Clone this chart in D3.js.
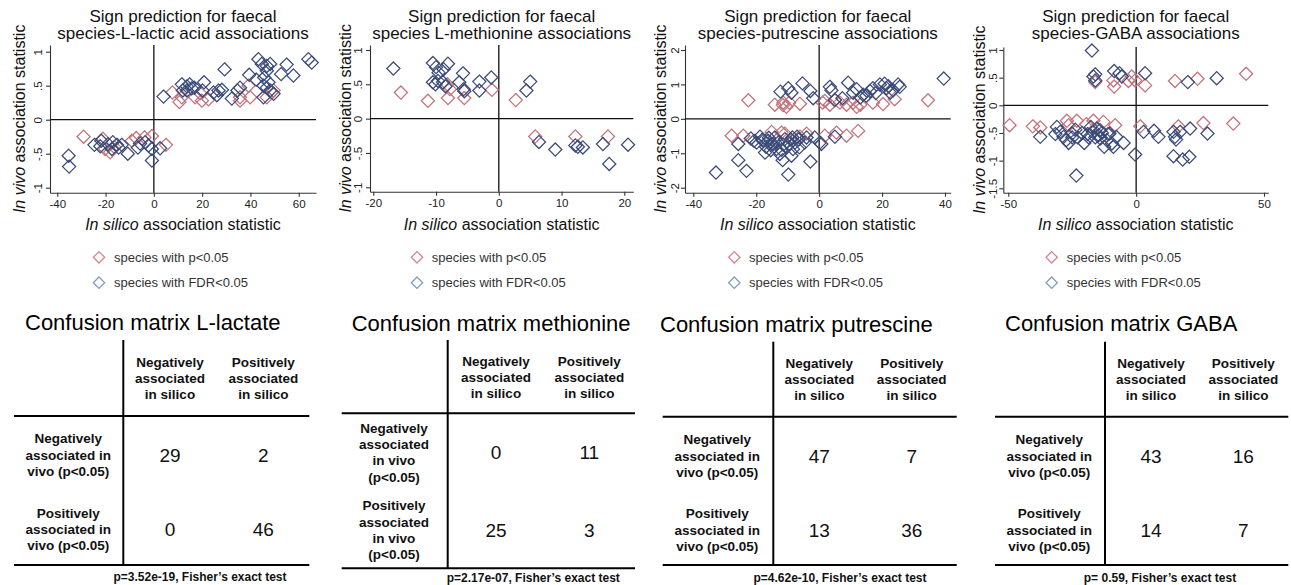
<!DOCTYPE html>
<html>
<head>
<meta charset="utf-8">
<title>Sign prediction for faecal species associations</title>
<script src="https://d3js.org/d3.v7.min.js"></script>
<style>
  body { margin: 0; background: #fff; }
  svg { font-family: "Liberation Sans", Arial, sans-serif; display: block; }
</style>
</head>
<body>
<div id="container"></div>
<script>
// ---------- data ----------
// [in silico statistic, in vivo statistic]
const lactateP = [[-29.1,-0.25],[-21.1,-0.28],[-20.2,-0.43],[-18.1,-0.48],[-16.4,-0.40],[-9.1,-0.31],
  [-7.3,-0.27],[-3.9,-0.26],[-0.8,-0.24],[5.0,-0.37],[7.7,0.40],[11.6,0.33],[10.6,0.26],[17.1,0.33],
  [19.2,0.39],[19.9,0.28],[22.6,0.30],[35.7,0.28],[39.2,0.50],[39.9,0.33],[35.7,0.33],[46.8,0.33],
  [48.8,0.40],[49.6,0.43]];
const lactateFDR = [[-35.3,-0.53],[-35.1,-0.69],[-24.6,-0.37],[-21.8,-0.31],[-22.2,-0.39],[-19.0,-0.36],
  [-17.0,-0.33],[-15.3,-0.37],[-14.6,-0.41],[-13.3,-0.37],[-17.4,-0.43],[-10.8,-0.50],[-6.6,-0.41],
  [-5.7,-0.35],[-3.6,-0.33],[-2.2,-0.38],[-0.8,-0.43],[-0.8,-0.60],[2.6,-0.42],[4.0,0.34],[11.6,0.52],
  [13.7,0.49],[14.8,0.52],[15.7,0.46],[13.7,0.43],[12.0,0.43],[16.8,0.47],[20.8,0.55],[20.2,0.43],
  [24.7,0.40],[26.8,0.43],[26.1,0.36],[28.2,0.44],[29.3,0.74],[32.3,0.31],[34.6,0.43],[35.7,0.47],
  [39.5,0.66],[42.4,0.59],[43.3,0.89],[44.7,0.82],[46.8,0.79],[48.2,0.82],[46.8,0.72],[45.7,0.62],
  [47.5,0.55],[45.4,0.50],[46.8,0.47],[45.4,0.33],[49.6,0.38],[48.2,0.43],[52.7,0.67],[55.0,0.81],
  [57.8,0.65],[64.0,0.89],[65.4,0.84]];

const methionineP = [[-15.6,0.38],[-11.3,0.26],[-8.2,0.50],[-8.1,0.30],[-7.8,0.43],[-5.5,0.30],
  [-1.1,0.42],[2.7,0.27],[5.8,-0.26],[12.2,-0.26],[17.4,-0.26]];
const methionineFDR = [[-16.8,0.73],[-10.5,0.81],[-10.0,0.75],[-9.6,0.67],[-8.8,0.72],[-8.1,0.80],
  [-10.5,0.53],[-10.1,0.50],[-9.7,0.55],[-8.9,0.53],[-8.5,0.47],[-6.3,0.53],[-5.7,0.66],[-5.6,0.43],
  [-5.5,0.40],[-3.1,0.54],[-3.1,0.41],[-1.2,0.60],[4.4,0.41],[5.0,0.54],[6.4,-0.34],[9.0,-0.45],
  [12.2,-0.39],[12.6,-0.41],[13.4,-0.42],[16.6,-0.37],[17.6,-0.66],[20.6,-0.38]];

const putrescineP = [[-22.5,0.54],[-14.1,0.41],[-11.4,0.47],[-10.4,0.35],[-9.5,0.47],[-6.1,0.44],
  [-11.5,0.40],[1.1,0.47],[1.8,0.52],[3.4,0.41],[5.0,0.54],[6.6,0.47],[8.7,0.41],[10.8,0.47],
  [11.9,0.35],[13.1,0.41],[17.1,0.47],[20.3,0.43],[24.0,0.57],[34.6,0.54],
  [-27.8,-0.49],[-24.1,-0.49],[-15.1,-0.38],[-12.0,-0.40],[-10.9,-0.43],[-6.1,-0.52],[-4.0,-0.43],
  [1.8,-0.49],[5.5,-0.40],[8.7,-0.49],[12.4,-0.35]];
const putrescineFDR = [[-12.3,0.79],[-9.8,0.89],[-8.8,0.76],[-5.3,1.03],[-2.8,0.81],[-1.9,0.60],
  [3.4,0.93],[3.9,0.83],[7.4,0.60],[9.2,1.05],[10.8,0.76],[11.9,0.86],[13.1,0.62],[15.0,0.67],
  [16.1,0.81],[17.1,0.89],[19.3,1.00],[20.8,1.02],[21.4,0.89],[22.6,0.76],[23.5,0.83],[25.1,1.00],
  [25.6,0.93],[39.6,1.17],[14.0,0.70],[18.0,0.75],[22.0,0.95],[5.0,0.55],
  [-32.8,-1.56],[-25.7,-0.73],[-25.7,-1.20],[-23.1,-1.51],[-21.7,-0.57],[-19.9,-0.69],[-18.8,-0.52],
  [-17.8,-0.64],[-16.9,-0.81],[-16.2,-0.64],[-15.4,-0.91],[-14.6,-0.73],[-14.1,-0.54],[-13.5,-0.88],
  [-13.0,-0.69],[-12.5,-1.02],[-11.6,-1.20],[-10.9,-0.59],[-10.4,-0.81],[-9.5,-0.73],[-8.8,-1.07],
  [-8.5,-0.54],[-8.3,-0.88],[-7.7,-0.69],[-7.0,-0.52],[-6.3,-0.83],[-4.6,-0.69],[-4.0,-0.54],
  [-2.8,-1.24],[-1.4,-0.54],[-9.8,-1.62],[-15.1,-0.73],[-11.4,-0.75],[-20.7,-0.64],[-17.2,-0.98],
  [-18.0,-0.60],[-12.0,-0.90],[-9.0,-0.60],[-6.5,-0.60],[-16.0,-0.55],
  [0.2,-0.69],[0.7,-0.73],[5.0,-0.52]];

const gabaP = [[-16.0,0.42],[-8.9,0.45],[-8.6,0.34],[-3.0,0.44],[-1.7,0.52],[-0.4,0.45],[3.5,0.36],
  [15.2,0.44],[24.0,0.48],[43.0,0.57],
  [-49.5,-0.36],[-40.4,-0.38],[-37.5,-0.40],[-27.1,-0.28],[-26.4,-0.36],[-23.2,-0.28],[-19.5,-0.34],
  [-16.7,-0.28],[-12.8,-0.30],[-8.2,-0.36],[1.6,-0.38],[16.5,-0.38],[26.3,-0.32],[38.0,-0.33]];
const gabaFDR = [[-17.3,0.99],[-16.7,0.52],[-16.0,0.45],[-16.0,0.56],[-8.6,0.62],[-6.5,0.58],
  [-5.6,0.52],[3.5,0.58],[20.2,0.42],[31.5,0.49],
  [-37.5,-0.57],[-31.0,-0.39],[-31.6,-0.52],[-29.7,-0.48],[-28.4,-0.57],[-27.3,-0.63],[-26.4,-0.68],
  [-25.1,-0.51],[-23.8,-0.44],[-22.9,-0.58],[-21.2,-0.50],[-20.3,-0.68],[-18.6,-0.58],[-17.7,-0.39],
  [-16.9,-0.48],[-16.0,-0.58],[-15.4,-0.42],[-14.7,-0.54],[-14.1,-0.45],[-13.4,-0.50],[-12.5,-0.75],
  [-11.5,-0.63],[-10.4,-0.51],[-9.5,-0.69],[-8.9,-0.75],[-7.8,-0.57],[-4.9,-0.68],[-0.4,-0.89],
  [-23.4,-1.27],[-25.0,-0.58],[-19.0,-0.52],[-14.0,-0.60],[-11.0,-0.52],
  [2.9,-0.48],[7.0,-0.46],[8.7,-0.57],[14.6,-0.48],[15.2,-0.57],[15.6,-0.62],[14.6,-0.92],
  [18.2,-0.98],[20.8,-0.93],[21.1,-0.42],[27.9,-0.51],[17.2,-0.48]];

const lactateXTicks = [-40, -20, 0, 20, 40, 60];
const lactateYTicks = [-1, -0.5, 0, 0.5, 1];
const methionineXTicks = [-20, -10, 0, 10, 20];
const methionineYTicks = [-1, -0.5, 0, 0.5, 1];
const putrescineXTicks = [-40, -20, 0, 20, 40];
const putrescineYTicks = [-2, -1, 0, 1, 2];
const gabaXTicks = [-50, 0, 50];
const gabaYTicks = [-1.5, -1, -0.5, 0, 0.5, 1];

const legendLabels = ["species with p<0.05", "species with FDR<0.05"];

const colLabels = [["Negatively", "associated", "in silico"], ["Positively", "associated", "in silico"]];
const rowLabels3 = [["Negatively", "associated in", "vivo (p<0.05)"], ["Positively", "associated in", "vivo (p<0.05)"]];
const rowLabels4 = [["Negatively", "associated", "in vivo", "(p<0.05)"], ["Positively", "associated", "in vivo", "(p<0.05)"]];

const lactateMatrix = [[29, 2], [0, 46]];
const methionineMatrix = [[0, 11], [25, 3]];
const putrescineMatrix = [[47, 7], [13, 36]];
const gabaMatrix = [[43, 16], [14, 7]];

const matrixTitles = ["Confusion matrix L-lactate", "Confusion matrix methionine", "Confusion matrix putrescine", "Confusion matrix GABA"];
const fisherNotes = ["p=3.52e-19, Fisher\u2019s exact test", "p=2.17e-07, Fisher\u2019s exact test",
  "p=4.62e-10, Fisher\u2019s exact test", "p= 0.59, Fisher\u2019s exact test"];

// ---------- layout ----------
const W = 1291, H = 585;
const red = "#c2727a", blue = "#3b4a78";
const redLegend = "#d3868c", blueLegend = "#7f9dc0";

const panels = [
  { title: ["Sign prediction for faecal", "species-L-lactic acid associations"],
    p: lactateP, fdr: lactateFDR, xTicks: lactateXTicks, yTicks: lactateYTicks,
    xPx: [57.3, 298.7], yPx: [187.7, 51.7], left: 50, right: 316, top: 45, bottom: 192.7,
    yTitleX: 19, yTickOff: 8, legX: 99, legTextX: 114,
    matrix: lactateMatrix, rows: rowLabels3,
    t: { left: 14, vline: 123.3, right: 309.3, top: 340, head: 416, bottom: 565, c1: 170, c2: 263.3,
         rowX: 68.3, r1: 455, r2: 529.3, headY: 378.3, titleX: 25, titleY: 329.5, footX: 200, footY: 580.5 } },
  { title: ["Sign prediction for faecal", "species L-methionine associations"],
    p: methionineP, fdr: methionineFDR, xTicks: methionineXTicks, yTicks: methionineYTicks,
    xPx: [373.3, 624.3], yPx: [187.3, 50], left: 370, right: 633.3, top: 45, bottom: 191.7,
    yTitleX: 345, yTickOff: 8, legX: 417, legTextX: 431.7,
    matrix: methionineMatrix, rows: rowLabels4,
    t: { left: 341.7, vline: 447.7, right: 635, top: 340, head: 413.3, bottom: 568.3, c1: 496, c2: 589.3,
         rowX: 394, r1: 452.5, r2: 530, headY: 377.3, titleX: 351.7, titleY: 331, footX: 533.3, footY: 582 } },
  { title: ["Sign prediction for faecal", "species-putrescine associations"],
    p: putrescineP, fdr: putrescineFDR, xTicks: putrescineXTicks, yTicks: putrescineYTicks,
    xPx: [693.3, 945], yPx: [187.7, 50], left: 685, right: 950.7, top: 45, bottom: 192.7,
    yTitleX: 660.7, yTickOff: 6, legX: 734.3, legTextX: 749,
    matrix: putrescineMatrix, rows: rowLabels3,
    t: { left: 662.7, vline: 773.3, right: 956.7, top: 341.7, head: 416.7, bottom: 565, c1: 819.3, c2: 911.7,
         rowX: 717.3, r1: 456, r2: 530, headY: 379.3, titleX: 660, titleY: 332, footX: 840, footY: 582 } },
  { title: ["Sign prediction for faecal", "species-GABA associations"],
    p: gabaP, fdr: gabaFDR, xTicks: gabaXTicks, yTicks: gabaYTicks,
    xPx: [1008.3, 1264], yPx: [188.3, 50], left: 1003.3, right: 1268.3, top: 47, bottom: 192.7,
    yTitleX: 979, yTickOff: 6, legX: 1051.7, legTextX: 1066.7,
    matrix: gabaMatrix, rows: rowLabels3,
    t: { left: 995, vline: 1105, right: 1288.3, top: 341.7, head: 416.7, bottom: 565, c1: 1151, c2: 1243.3,
         rowX: 1049.3, r1: 456, r2: 530, headY: 379.3, titleX: 1005, titleY: 331.3, footX: 1160, footY: 582 } }
];

const svg = d3.select("#container").append("svg")
  .attr("width", W)
  .attr("height", H)
  .attr("viewBox", `0 0 ${W} ${H}`);

const diamond = d3.symbol().type(d3.symbolDiamond2);
const fmtY = d => String(d).replace("0.", ".");

panels.forEach((pn, i) => {
  const g = svg.append("g");

  // scales fixed by tick pixel positions, then stretched to the plot edges
  const x = d3.scaleLinear().domain([pn.xTicks[0], pn.xTicks[pn.xTicks.length - 1]]).range(pn.xPx);
  x.domain([x.invert(pn.left), x.invert(pn.right)]).range([pn.left, pn.right]);
  const y = d3.scaleLinear().domain([pn.yTicks[0], pn.yTicks[pn.yTicks.length - 1]]).range(pn.yPx);
  y.domain([y.invert(pn.bottom), y.invert(pn.top)]).range([pn.bottom, pn.top]);
  const cx = (pn.left + pn.right) / 2;

  // title
  g.append("text")
    .attr("x", cx).attr("y", 22)
    .attr("text-anchor", "middle").attr("font-size", 17).attr("fill", "#111")
    .text(pn.title[0]);
  g.append("text")
    .attr("x", cx).attr("y", 38.5)
    .attr("text-anchor", "middle").attr("font-size", 17).attr("fill", "#111")
    .text(pn.title[1]);

  // axes
  const xa = g.append("g")
    .attr("transform", `translate(0,${pn.bottom})`)
    .call(d3.axisBottom(x).tickValues(pn.xTicks).tickFormat(d => String(d)).tickSize(4).tickSizeOuter(0));
  const ya = g.append("g")
    .attr("transform", `translate(${pn.left},0)`)
    .call(d3.axisLeft(y).tickValues(pn.yTicks).tickFormat(fmtY).tickSize(4).tickSizeOuter(0));
  [xa, ya].forEach(a => {
    a.selectAll("path, line").attr("stroke", "#333").attr("stroke-width", 1.1);
    a.selectAll("text").attr("font-size", 11.5).attr("fill", "#222")
      .attr("font-family", "Liberation Sans, Arial, sans-serif");
  });
  ya.selectAll("text")
    .attr("x", null).attr("dy", null)
    .attr("text-anchor", "middle")
    .attr("transform", `translate(${-pn.yTickOff},0) rotate(-90)`);

  // zero reference lines
  g.append("line")
    .attr("x1", pn.left).attr("x2", pn.right)
    .attr("y1", y(0)).attr("y2", y(0))
    .attr("stroke", "#111").attr("stroke-width", 1.3);
  g.append("line")
    .attr("x1", x(0)).attr("x2", x(0))
    .attr("y1", pn.top).attr("y2", pn.bottom)
    .attr("stroke", "#111").attr("stroke-width", 1.3);

  // axis titles
  const xt = g.append("text")
    .attr("x", cx).attr("y", 230)
    .attr("text-anchor", "middle").attr("font-size", 16).attr("fill", "#111");
  xt.append("tspan").attr("font-style", "italic").text("In silico");
  xt.append("tspan").text(" association statistic");

  const yt = g.append("text")
    .attr("transform", `translate(${pn.yTitleX},${(pn.top + pn.bottom) / 2}) rotate(-90)`)
    .attr("dy", "0.35em")
    .attr("text-anchor", "middle").attr("font-size", 16).attr("fill", "#111");
  yt.append("tspan").attr("font-style", "italic").text("In vivo");
  yt.append("tspan").text(" association statistic");

  // points
  g.selectAll(".pt-p")
    .data(pn.p)
    .enter()
    .append("path")
    .attr("class", "pt-p")
    .attr("d", diamond.size(110))
    .attr("transform", d => `translate(${x(d[0])},${y(d[1])})`)
    .attr("fill", "none")
    .attr("stroke", red)
    .attr("stroke-width", 1.25);

  g.selectAll(".pt-fdr")
    .data(pn.fdr)
    .enter()
    .append("path")
    .attr("class", "pt-fdr")
    .attr("d", diamond.size(110))
    .attr("transform", d => `translate(${x(d[0])},${y(d[1])})`)
    .attr("fill", "none")
    .attr("stroke", blue)
    .attr("stroke-width", 1.25);

  // legend
  [redLegend, blueLegend].forEach((c, k) => {
    const ly = 257.3 + k * 25.4;
    g.append("path")
      .attr("d", diamond.size(82))
      .attr("transform", `translate(${pn.legX},${ly})`)
      .attr("fill", "none").attr("stroke", c).attr("stroke-width", 1.3);
    g.append("text")
      .attr("x", pn.legTextX).attr("y", ly)
      .attr("dy", "0.35em")
      .attr("font-size", 13).attr("fill", "#333")
      .text(legendLabels[k]);
  });

  // confusion matrix
  const t = pn.t;
  g.append("text")
    .attr("x", t.titleX).attr("y", t.titleY)
    .attr("font-size", 22).attr("fill", "#000")
    .text(matrixTitles[i]);

  g.append("line").attr("x1", t.vline).attr("x2", t.vline).attr("y1", t.top).attr("y2", t.bottom)
    .attr("stroke", "#000").attr("stroke-width", 2);
  g.append("line").attr("x1", t.left).attr("x2", t.right).attr("y1", t.head).attr("y2", t.head)
    .attr("stroke", "#000").attr("stroke-width", 2);
  g.append("line").attr("x1", t.left).attr("x2", t.right).attr("y1", t.bottom).attr("y2", t.bottom)
    .attr("stroke", "#000").attr("stroke-width", 2);

  const lh = 16.3;
  const cols = [t.c1, t.c2];
  const rowsY = [t.r1, t.r2];

  colLabels.forEach((lines, c) => {
    lines.forEach((s, k) => {
      g.append("text")
        .attr("x", cols[c]).attr("y", t.headY + (k - (lines.length - 1) / 2) * lh)
        .attr("dy", "0.35em").attr("text-anchor", "middle")
        .attr("font-size", 13.5).attr("font-weight", "bold").attr("fill", "#111")
        .text(s);
    });
  });

  pn.rows.forEach((lines, r) => {
    lines.forEach((s, k) => {
      g.append("text")
        .attr("x", t.rowX).attr("y", rowsY[r] + (k - (lines.length - 1) / 2) * lh)
        .attr("dy", "0.35em").attr("text-anchor", "middle")
        .attr("font-size", 13.5).attr("font-weight", "bold").attr("fill", "#111")
        .text(s);
    });
    pn.matrix[r].forEach((v, c) => {
      g.append("text")
        .attr("x", cols[c]).attr("y", rowsY[r])
        .attr("dy", "0.35em").attr("text-anchor", "middle")
        .attr("font-size", 19).attr("fill", "#111")
        .text(v);
    });
  });

  g.append("text")
    .attr("x", t.footX).attr("y", t.footY)
    .attr("text-anchor", "middle")
    .attr("font-size", 12).attr("font-weight", "bold").attr("fill", "#111")
    .text(fisherNotes[i]);
});
</script>
</body>
</html>
